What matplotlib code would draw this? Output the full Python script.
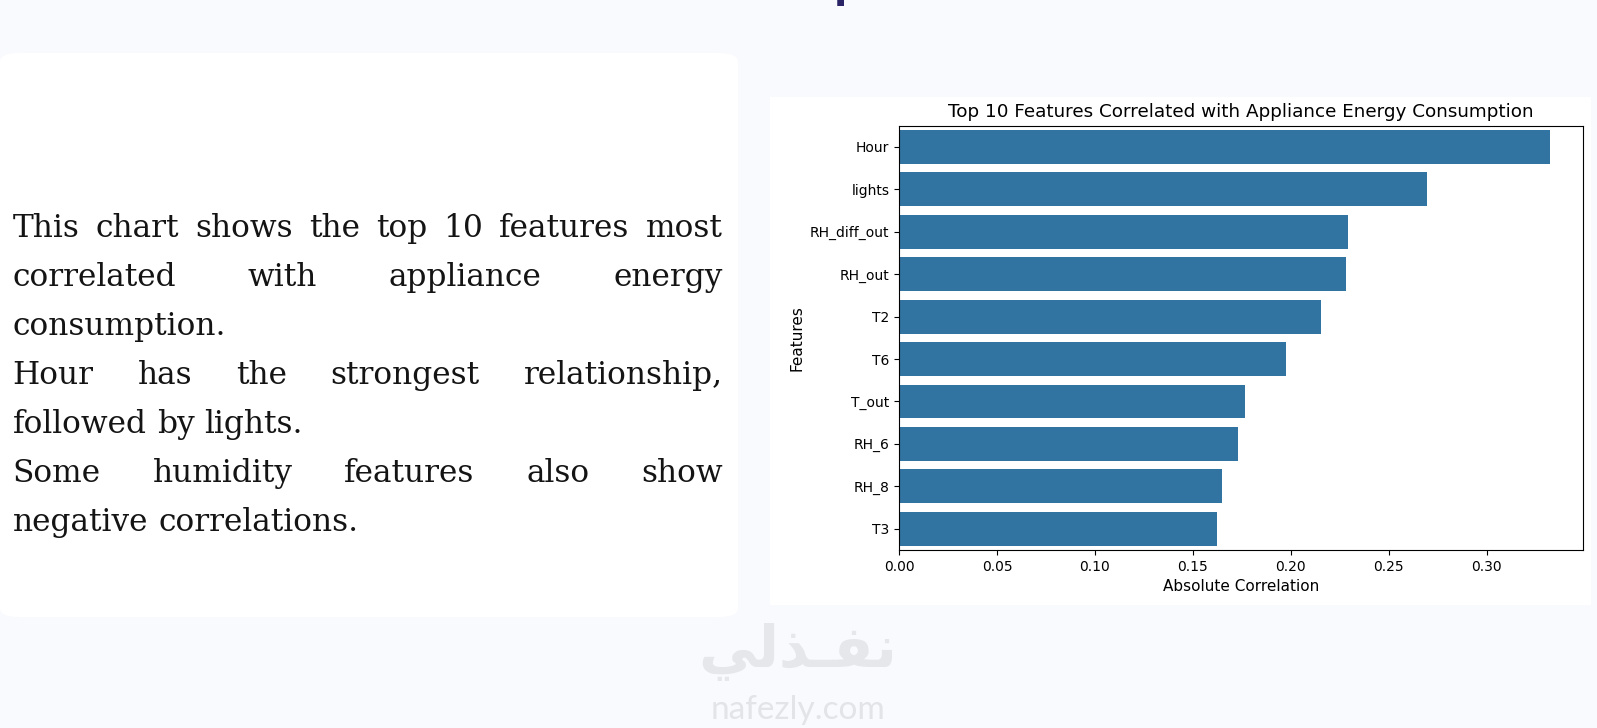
import matplotlib
matplotlib.use("Agg")
import matplotlib.pyplot as plt
from matplotlib.patches import FancyBboxPatch, Rectangle

W, H = 1597, 728

# --- data
features = ["Hour", "lights", "RH_diff_out", "RH_out", "T2", "T6",
            "T_out", "RH_6", "RH_8", "T3"]
abs_corr = [0.3325, 0.2695, 0.229, 0.228, 0.2155, 0.1974,
            0.1765, 0.1730, 0.1647, 0.1623]
xticks = [0, 0.05, 0.10, 0.15, 0.20, 0.25, 0.30]
xtick_labels = ["0.00", "0.05", "0.10", "0.15", "0.20", "0.25", "0.30"]

# line breaks as seen on the slide (text, justified?)
lines = [
    ("This chart shows the top 10 features most", True),
    ("correlated with appliance energy", True),
    ("consumption.", False),
    ("Hour has the strongest relationship,", True),
    ("followed by lights.", False),
    ("Some humidity features also show", True),
    ("negative correlations.", False),
]

bg = "#f9fafd"
bar_color = "#3274a1"

fig = plt.figure(figsize=(W / 100, H / 100), dpi=100, facecolor=bg)


def fx(px):
    return px / W


def fy(py):
    return 1 - py / H


# slide heading sits above the crop, only a descender peeks in
fig.text(fx(833.5), fy(-2), "p", family="DejaVu Sans", fontweight="bold",
         fontsize=28, color="#2a2466", ha="left", va="baseline")

# --- left white card
card = FancyBboxPatch((fx(0), fy(617)), fx(738), (617 - 53) / H,
                      boxstyle="round,pad=0,rounding_size=0.012",
                      transform=fig.transFigure, facecolor="white",
                      edgecolor="none", zorder=-2)
fig.patches.append(card)

# --- chart panel (white figure background of the embedded chart)
panel = Rectangle((fx(770), fy(605)), fx(1591 - 770), (605 - 97) / H,
                  transform=fig.transFigure, facecolor="white",
                  edgecolor="none", zorder=-2)
fig.patches.append(panel)

# --- justified paragraph text
renderer = fig.canvas.get_renderer()
x_left, x_right = 12.7, 722.7
base0, step = 237, 49
fsize = 22.5
txt_kw = dict(family="DejaVu Serif", color="#141414", va="baseline", ha="left")


def word_widths(words, size):
    out = []
    for w in words:
        t = fig.text(0, 0, w, fontsize=size, **txt_kw)
        out.append(t.get_window_extent(renderer).width)
        t.remove()
    return out


sp = fig.text(0, 0, "a a", fontsize=fsize, **txt_kw)
space_w = sp.get_window_extent(renderer).width - word_widths(["aa"], fsize)[0]
sp.remove()

# shrink font if the fullest line does not fit
first = lines[0][0].split()
need = sum(word_widths(first, fsize)) + space_w * 0.9 * (len(first) - 1)
if need > x_right - x_left:
    fsize *= (x_right - x_left) / need

for i, (line, justify) in enumerate(lines):
    words = line.split()
    ws = word_widths(words, fsize)
    if justify and len(words) > 1:
        gap = (x_right - x_left - sum(ws)) / (len(words) - 1)
    else:
        gap = space_w
    x = x_left
    yb = base0 + step * i
    for w, ww in zip(words, ws):
        fig.text(fx(x), fy(yb), w, fontsize=fsize, **txt_kw)
        x += ww + gap

# --- bar chart
ax = fig.add_axes([fx(899), fy(550), fx(1583 - 899), (550 - 125.7) / H])
ypos = list(range(len(features)))
ax.barh(ypos, abs_corr, height=0.8, color=bar_color)
ax.set_yticks(ypos)
ax.set_yticklabels(features, fontsize=10)
ax.set_ylim(len(features) - 0.5, -0.5)
ax.set_xlim(0, max(abs_corr) * 1.05)
ax.set_xticks(xticks)
ax.set_xticklabels(xtick_labels, fontsize=10)
ax.set_xlabel("Absolute Correlation", fontsize=11)
ax.set_ylabel("Features", fontsize=11)
ax.set_title("Top 10 Features Correlated with Appliance Energy Consumption",
             fontsize=13.2)
ax.set_facecolor("white")

# --- watermark
fig.text(fx(798), fy(652), "\uFEF2\uFEDF\uFEAC\u0640\uFED4\uFEE7",
         family="DejaVu Sans", fontweight="bold", fontsize=42,
         color="#e6e7ea", ha="center", va="center")
fig.text(fx(798), fy(710), "nafezly.com", family="Lato", fontsize=24,
         color="#e3e4e8", ha="center", va="center")

fig.savefig("out.png", dpi=100, facecolor=bg)
